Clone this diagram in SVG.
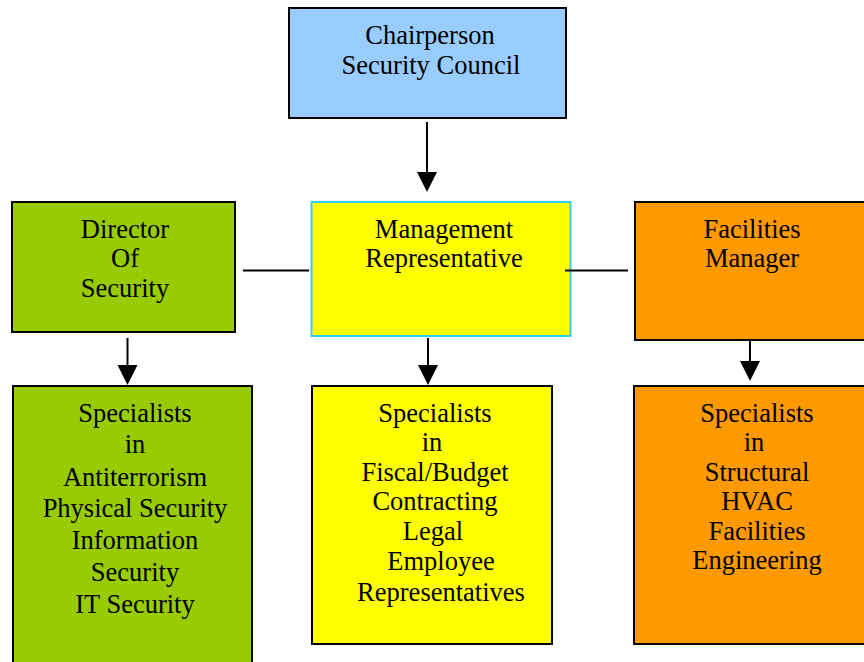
<svg xmlns="http://www.w3.org/2000/svg" width="864" height="662" viewBox="0 0 864 662">
<style>
text{font-family:"Liberation Serif","Times New Roman",serif;font-size:26.5px;fill:#000;text-anchor:middle}
.box{stroke:#000;stroke-width:2}
.conn{stroke:#000;stroke-width:2;fill:none}
</style>
<defs>
<marker id="ah" markerUnits="userSpaceOnUse" markerWidth="22" markerHeight="22" refX="10" refY="10" orient="auto" viewBox="0 0 22 22">
<path d="M0,0 L20,10 L0,20 Z" fill="#000"/>
</marker>
</defs>
<rect width="864" height="662" fill="#fff"/>
<g id="chair">
<rect class="box" x="289" y="8" width="277" height="110" fill="#99CCFF"/>
<text x="430" y="44">Chairperson</text>
<text x="431" y="74">Security Council</text>
</g>
<g id="director">
<rect class="box" x="12" y="202" width="223" height="130" fill="#99CC00"/>
<text x="125" y="238">Director</text>
<text x="125" y="267">Of</text>
<text x="125" y="297">Security</text>
</g>
<g id="mgmt">
<rect x="311.5" y="202" width="259" height="134" fill="#FFFF00" stroke="#33CCFF" stroke-width="2"/>
<text x="444" y="238">Management</text>
<text x="444" y="267">Representative</text>
</g>
<g id="facilities">
<rect class="box" x="635" y="202" width="240" height="138" fill="#FF9900"/>
<text x="752" y="238">Facilities</text>
<text x="752" y="267">Manager</text>
</g>
<g id="spec-security">
<rect class="box" x="13" y="386" width="239" height="290" fill="#99CC00"/>
<text x="135" y="422">Specialists</text>
<text x="135" y="453">in</text>
<text x="135" y="486">Antiterrorism</text>
<text x="135" y="517">Physical Security</text>
<text x="135" y="549">Information</text>
<text x="135" y="581">Security</text>
<text x="135" y="613">IT Security</text>
</g>
<g id="spec-mgmt">
<rect class="box" x="312" y="386" width="240" height="258" fill="#FFFF00"/>
<text x="435" y="422">Specialists</text>
<text x="432" y="451">in</text>
<text x="435" y="481">Fiscal/Budget</text>
<text x="435" y="510">Contracting</text>
<text x="433" y="540">Legal</text>
<text x="441" y="570">Employee</text>
<text x="441" y="601">Representatives</text>
</g>
<g id="spec-facilities">
<rect class="box" x="634" y="386" width="240" height="258" fill="#FF9900"/>
<text x="757" y="422">Specialists</text>
<text x="754" y="451">in</text>
<text x="757" y="481">Structural</text>
<text x="757" y="510">HVAC</text>
<text x="757" y="540">Facilities</text>
<text x="757" y="569">Engineering</text>
</g>
<g id="connectors">
<line class="conn" x1="427" y1="122" x2="427" y2="182" marker-end="url(#ah)"/>
<line class="conn" x1="243" y1="270.5" x2="309" y2="270.5"/>
<line class="conn" x1="565" y1="270.5" x2="628" y2="270.5"/>
<line class="conn" x1="127.5" y1="338" x2="127.5" y2="375" marker-end="url(#ah)"/>
<line class="conn" x1="428" y1="338" x2="428" y2="375" marker-end="url(#ah)"/>
<line class="conn" x1="750" y1="340" x2="750" y2="371" marker-end="url(#ah)"/>
</g>
</svg>
